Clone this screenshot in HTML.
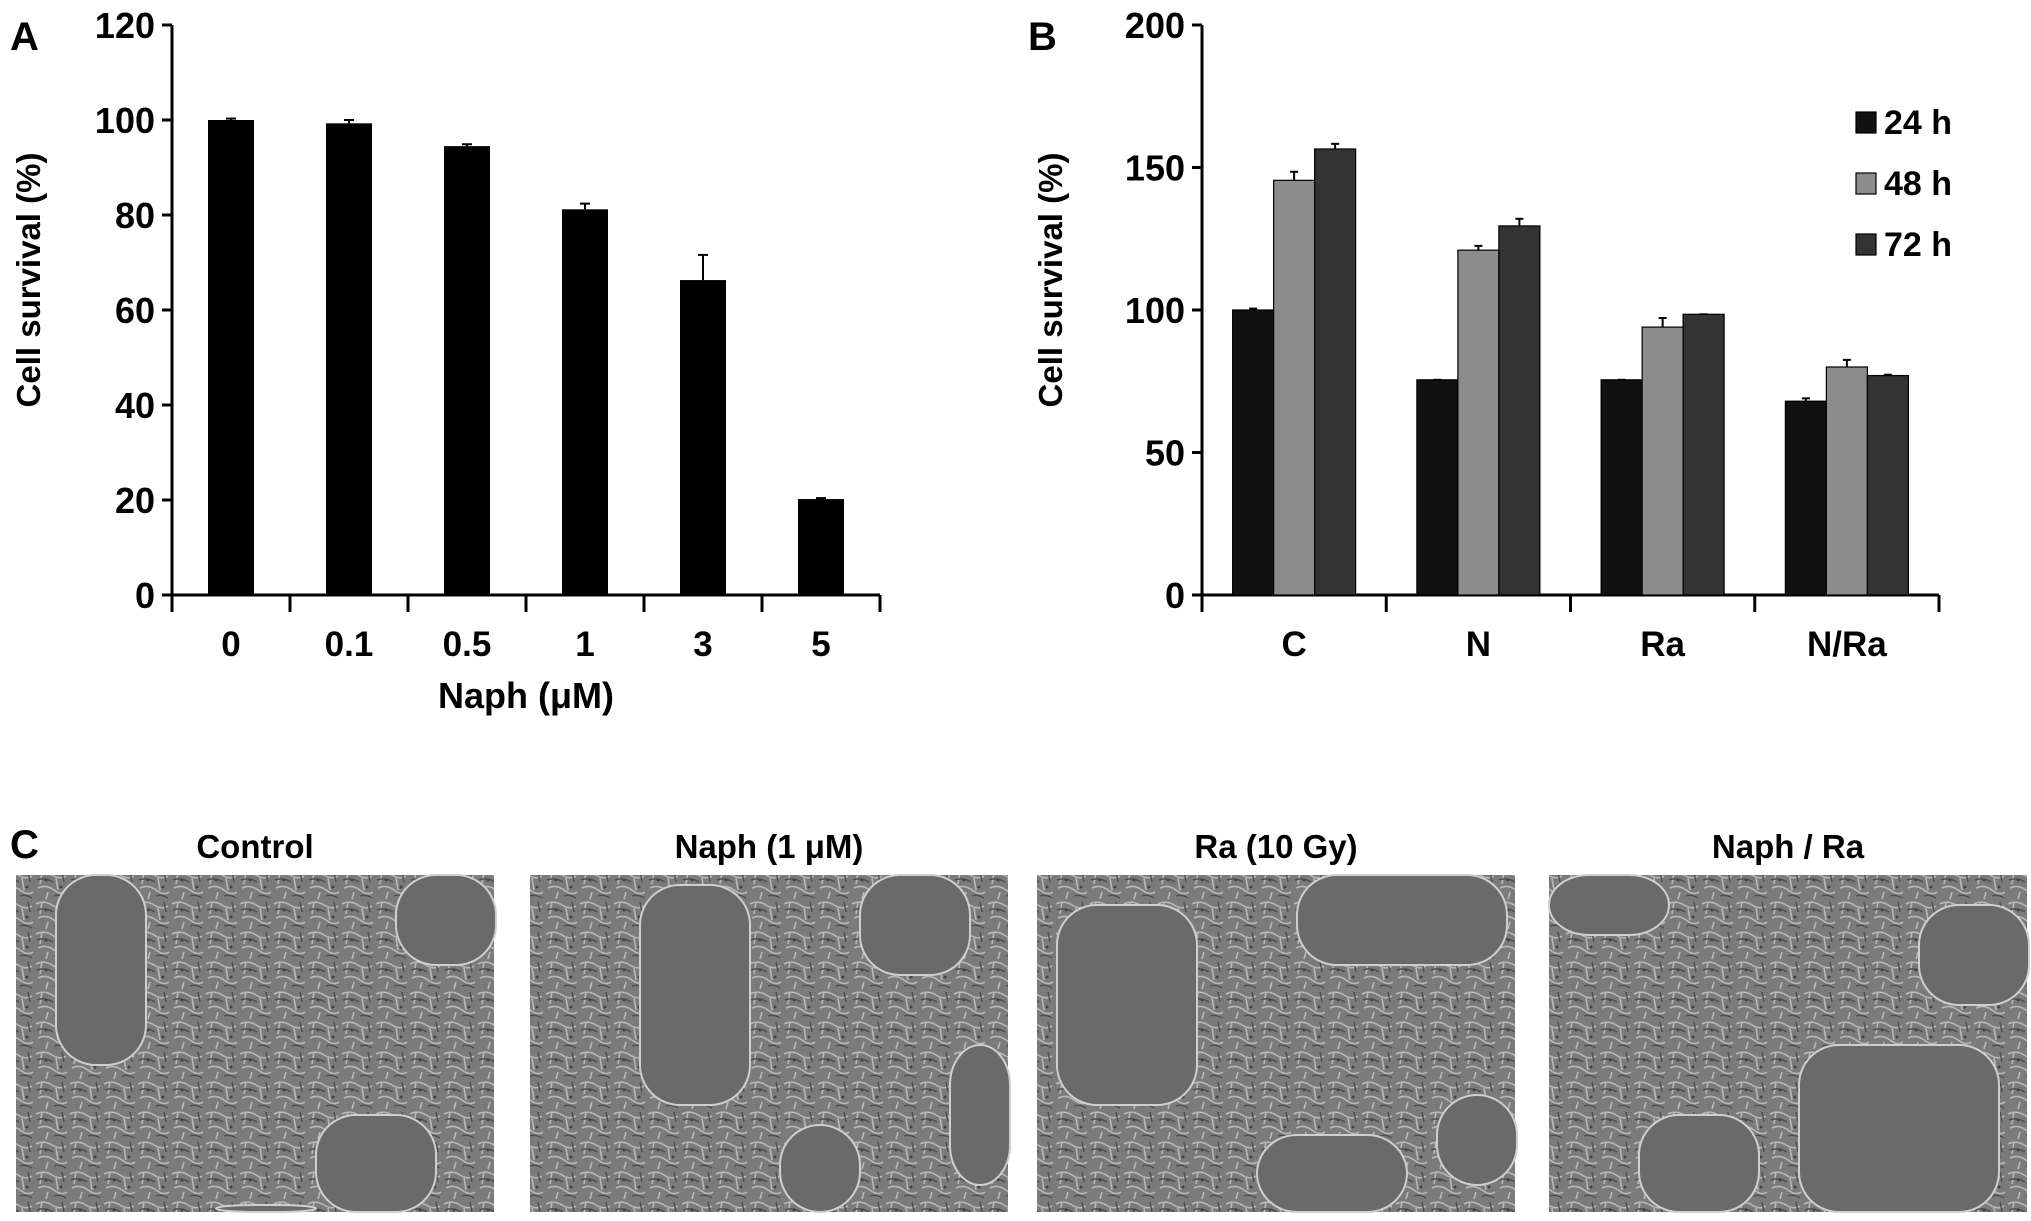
<!DOCTYPE html>
<html><head><meta charset="utf-8">
<style>
html,body{margin:0;padding:0;background:#fff;}
body{width:2031px;height:1221px;overflow:hidden;position:relative;font-family:"Liberation Sans",sans-serif;}
svg{position:absolute;left:0;top:0;}
</style></head>
<body>
<svg id="fig" width="2031" height="1221" viewBox="0 0 2031 1221">
<defs>
<pattern id="cells" width="34" height="30" patternUnits="userSpaceOnUse">
<rect width="34" height="30" fill="#7b7b7b"/>
<path d="M2 4 Q10 0 18 5 T32 6 M4 18 Q12 14 20 20 T33 22 M8 2 L6 14 M22 8 L24 20 M14 22 L12 29" stroke="#b8b8b8" stroke-width="1.6" fill="none"/>
<path d="M3 10 Q11 7 19 12 M20 26 Q26 24 32 28 M28 2 L30 12" stroke="#4e4e4e" stroke-width="1.4" fill="none"/>
<circle cx="12" cy="10" r="1.5" fill="#444"/><circle cx="27" cy="17" r="1.5" fill="#444"/>
</pattern>
</defs>
</svg>
<script>
const NS="http://www.w3.org/2000/svg";
const svg=document.getElementById('fig');
function mk(tag,attrs,parent){const e=document.createElementNS(NS,tag);for(const k in attrs)e.setAttribute(k,attrs[k]);(parent||svg).appendChild(e);return e;}
function txt(s,attrs,parent){const t=mk('text',Object.assign({'font-family':'Liberation Sans, sans-serif','font-weight':'bold',fill:'#000'},attrs),parent);t.textContent=s;return t;}

// ---- Chart A data ----
const catsA=["0","0.1","0.5","1","3","5"];
const valsA=[100,99.3,94.5,81.2,66.3,20.2];
const errsA=[0.3,0.7,0.4,1.2,5.3,0.2];
const ticksA=[0,20,40,60,80,100,120];

// ---- Chart B data ----
const catsB=["C","N","Ra","N/Ra"];
const seriesNames=["24 h","48 h","72 h"];
const vals24=[100,75.5,75.5,68];
const vals48=[145.5,121,94,80];
const vals72=[156.5,129.5,98.5,77];
const errs24=[0.5,0,0,1];
const errs48=[3,1.5,3.2,2.5];
const errs72=[1.8,2.5,0,0.3];
const ticksB=[0,50,100,150,200];

// ---- Chart A ----
const gA=mk('g',{});


const A={x0:172,x1:880,y0:595,y1:25,max:120};
const yA=v=>A.y0-(v/A.max)*(A.y0-A.y1);
const cwA=(A.x1-A.x0)/catsA.length;
txt('A',{x:10,y:50,'font-size':40,'font-weight':'bold'},gA);
mk('line',{x1:A.x0,y1:A.y1,x2:A.x0,y2:A.y0+17,stroke:'#000','stroke-width':3},gA);
mk('line',{x1:A.x0,y1:A.y0,x2:A.x1,y2:A.y0,stroke:'#000','stroke-width':3},gA);
ticksA.forEach(t=>{
  const tk=mk('line',{x1:A.x0-10,y1:yA(t),x2:A.x0,y2:yA(t),stroke:'#000','stroke-width':3},gA);
  
  
  const l=txt(String(t),{x:A.x0-17,y:yA(t)+13,'font-size':36,'text-anchor':'end'},gA);
  
  
});
for(let i=1;i<=catsA.length;i++){
  const tk=mk('line',{x1:A.x0+i*cwA,y1:A.y0,x2:A.x0+i*cwA,y2:A.y0+17,stroke:'#000','stroke-width':3},gA);
  
  
}
catsA.forEach((c,i)=>{
  const cx=A.x0+cwA*(i+0.5),bw=46;
  const e=mk('line',{x1:cx,y1:yA(valsA[i]),x2:cx,y2:yA(valsA[i]+errsA[i]),stroke:'#000','stroke-width':2},gA);
  
  
  const ec=mk('line',{x1:cx-5,y1:yA(valsA[i]+errsA[i]),x2:cx+5,y2:yA(valsA[i]+errsA[i]),stroke:'#000','stroke-width':2},gA);
  
  
  const b=mk('rect',{x:cx-bw/2,y:yA(valsA[i]),width:bw,height:A.y0-yA(valsA[i]),fill:'#000'},gA);
  
  
  const l=txt(c,{x:cx,y:656,'font-size':35,'text-anchor':'middle'},gA);
  
  
});
const xtA=txt('Naph (μM)',{x:(A.x0+A.x1)/2,y:708,'font-size':36,'text-anchor':'middle'},gA);


const ytA=txt('Cell survival (%)',{x:0,y:0,'font-size':33,'text-anchor':'middle',transform:'translate(40,280) rotate(-90)'},gA);



// ---- Chart B ----
const gB=mk('g',{});


const B={x0:1202,x1:1939,y0:595,y1:25,max:200};
const yB=v=>B.y0-(v/B.max)*(B.y0-B.y1);
const cwB=(B.x1-B.x0)/catsB.length;
txt('B',{x:1028,y:50,'font-size':40},gB);
mk('line',{x1:B.x0,y1:B.y1,x2:B.x0,y2:B.y0+17,stroke:'#000','stroke-width':3},gB);
mk('line',{x1:B.x0,y1:B.y0,x2:B.x1,y2:B.y0,stroke:'#000','stroke-width':3},gB);
ticksB.forEach(t=>{
  const tk=mk('line',{x1:B.x0-10,y1:yB(t),x2:B.x0,y2:yB(t),stroke:'#000','stroke-width':3},gB);
  
  
  const l=txt(String(t),{x:B.x0-17,y:yB(t)+13,'font-size':36,'text-anchor':'end'},gB);
  
  
});
for(let i=1;i<=catsB.length;i++){
  const tk=mk('line',{x1:B.x0+i*cwB,y1:B.y0,x2:B.x0+i*cwB,y2:B.y0+17,stroke:'#000','stroke-width':3},gB);
  
  
}
const seriesVals=[vals24,vals48,vals72];
const seriesErrs=[errs24,errs48,errs72];
const colors=['#111111','#8c8c8c','#333333'];
catsB.forEach((c,i)=>{
  const bw=41,start=B.x0+cwB*i+(cwB-3*bw)/2;
  seriesVals.forEach((vals,s)=>{
    const x=start+s*bw,v=vals[i],e=seriesErrs[s][i],cx=x+bw/2;
    if(e>0){
      const el=mk('line',{x1:cx,y1:yB(v),x2:cx,y2:yB(v+e),stroke:'#000','stroke-width':2},gB);
      
      
    }
    const ec=mk('line',{x1:cx-4,y1:yB(v+e),x2:cx+4,y2:yB(v+e),stroke:'#000','stroke-width':2},gB);
    
    
    const b=mk('rect',{x:x,y:yB(v),width:bw,height:B.y0-yB(v),fill:colors[s],stroke:'#000','stroke-width':1.2},gB);
    
    
  });
  const l=txt(c,{x:B.x0+cwB*(i+0.5),y:656,'font-size':35,'text-anchor':'middle'},gB);
  
  
});
const ytB=txt('Cell survival (%)',{x:0,y:0,'font-size':33,'text-anchor':'middle',transform:'translate(1062,280) rotate(-90)'},gB);


seriesNames.forEach((n,s)=>{
  const y=112+s*61;
  const sw=mk('rect',{x:1856,y:y,width:20,height:21,fill:colors[s],stroke:'#000','stroke-width':1.2},gB);
  
  
  const l=txt(n,{x:1884,y:y+22,'font-size':34},gB);
  
  
});

// ---- Panel C ----
const gC=mk('g',{});


txt('C',{x:10,y:858,'font-size':40},gC);
const photoTitles=["Control","Naph (1 μM)","Ra (10 Gy)","Naph / Ra"];
const photoX=[16,530,1037,1549];
const photoW=478;
const blobs=[
 [[40,0,90,190],[300,240,120,160],[380,0,100,90],[200,330,100,10]],
 [[110,10,110,220],[330,0,110,100],[420,170,60,140],[250,250,80,90]],
 [[20,30,140,200],[260,0,210,90],[220,260,150,80],[400,220,80,90]],
 [[250,170,200,170],[0,0,120,60],[370,30,110,100],[90,240,120,100]]
];
photoTitles.forEach((t,i)=>{
  const x=photoX[i],y=875,h=337;
  const l=txt(t,{x:x+photoW/2,y:858,'font-size':33,'text-anchor':'middle'},gC);
  
  
  const g=mk('g',{},gC);
  
  
  mk('rect',{x:x,y:y,width:photoW,height:h,fill:'url(#cells)'},g);
  blobs[i].forEach(b=>{
    mk('rect',{x:x+b[0],y:y+b[1],width:b[2],height:Math.min(b[3],h-b[1]),rx:40,fill:'#6a6a6a',stroke:'#cfcfcf','stroke-width':2},g);
  });
});
</script>
</body></html>
